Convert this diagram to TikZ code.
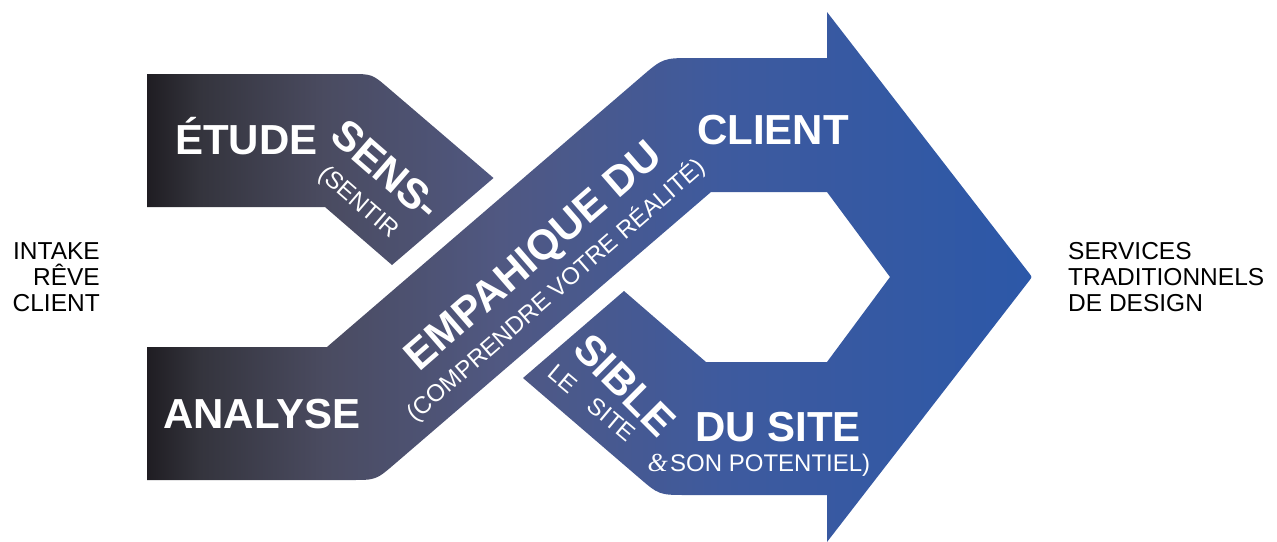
\documentclass[tikz,border=0pt]{standalone}
\usepackage{fontspec}
\setmainfont{Liberation Sans}
\newfontfamily\ampfont{Liberation Serif}
\definecolor{g0}{HTML}{1F1D22}
\definecolor{g1}{HTML}{34343D}
\definecolor{g2}{HTML}{4A4B60}
\definecolor{g3}{HTML}{505882}
\definecolor{g4}{HTML}{3E5A9E}
\definecolor{g5}{HTML}{2C58A8}
\pgfdeclarehorizontalshading{bandshade}{100bp}{color(0bp)=(g0); color(25bp)=(g0); color(28bp)=(g1); color(35bp)=(g2); color(45bp)=(g3); color(57.5bp)=(g4); color(75bp)=(g5); color(100bp)=(g5)}
\tikzset{
  big/.style={text=white, font=\fontsize{42}{48}\selectfont\bfseries, inner sep=0pt},
  small/.style={text=white, font=\fontsize{24}{28}\selectfont, inner sep=0pt},
  side/.style={text=black, font=\fontsize{24.5}{26}\selectfont, inner sep=0pt}
}
\begin{document}
\begin{tikzpicture}[x=1pt,y=-1pt]
\useasboundingbox (0,0) rectangle (1277,541);
\shade[shading=bandshade]
 (147,74) -- (350,74) .. controls (372,74) .. (388.7,88.3) -- (493.5,178) -- (392,265) -- (325,207) -- (147,207) -- cycle
 (147,347) -- (327,347) -- (640.3,77.6) .. controls (663,58) .. (693,58) -- (827,58) -- (827,12)
   -- (1029.6,273.8) .. controls (1032,277) .. (1029.6,280.2) -- (827,542) -- (827,495) -- (687,495)
   .. controls (659,495) .. (637.8,476.7) -- (523,378) -- (624,291) -- (706,362) -- (827,362)
   -- (890,277) -- (827,192) -- (711,192) -- (395,463.7) .. controls (376,480) .. (351,480) -- (147,480) -- cycle;

\node[big, anchor=base west] (etude) at (175,154) {ÉTUDE};
\node[big, anchor=base west] (analyse) at (163,428) {ANALYSE};
\node[big, anchor=base west] (client) at (697,144) {CLIENT};
\node[big, anchor=base west] (dusite) at (695,441) {DU SITE};
\node[small, anchor=base west] (pot) at (670,471) {SON POTENTIEL)};
\node[anchor=base east, text=white, font=\ampfont\itshape\fontsize{26}{28}\selectfont, inner sep=0pt] (amp) at (668,471) {\&};
\node[big, rotate=-41] (sens) at (386,170) {SENS-};
\node[small, rotate=-41] (sentir) at (358,203) {(SENTIR};
\node[big, rotate=41] (emp) at (535,258) {EMPAHIQUE DU};
\node[small, rotate=41] (compr) at (556,290) {(COMPRENDRE VOTRE RÉALITÉ)};
\node[big, rotate=-45] (sible) at (625,385) {SIBLE};
\node[small, rotate=-40] (lesite) at (592,403) {LE\hspace{22pt}SITE};

\node[side, anchor=base east] (l1) at (100,259) {INTAKE};
\node[side, anchor=base east] (l2) at (100,285) {RÊVE};
\node[side, anchor=base east] (l3) at (100,311) {CLIENT};
\node[side, anchor=base west] (r1) at (1068,259) {SERVICES};
\node[side, anchor=base west] (r2) at (1068,285) {TRADITIONNELS};
\node[side, anchor=base west] (r3) at (1068,311) {DE DESIGN};
\end{tikzpicture}
\end{document}
